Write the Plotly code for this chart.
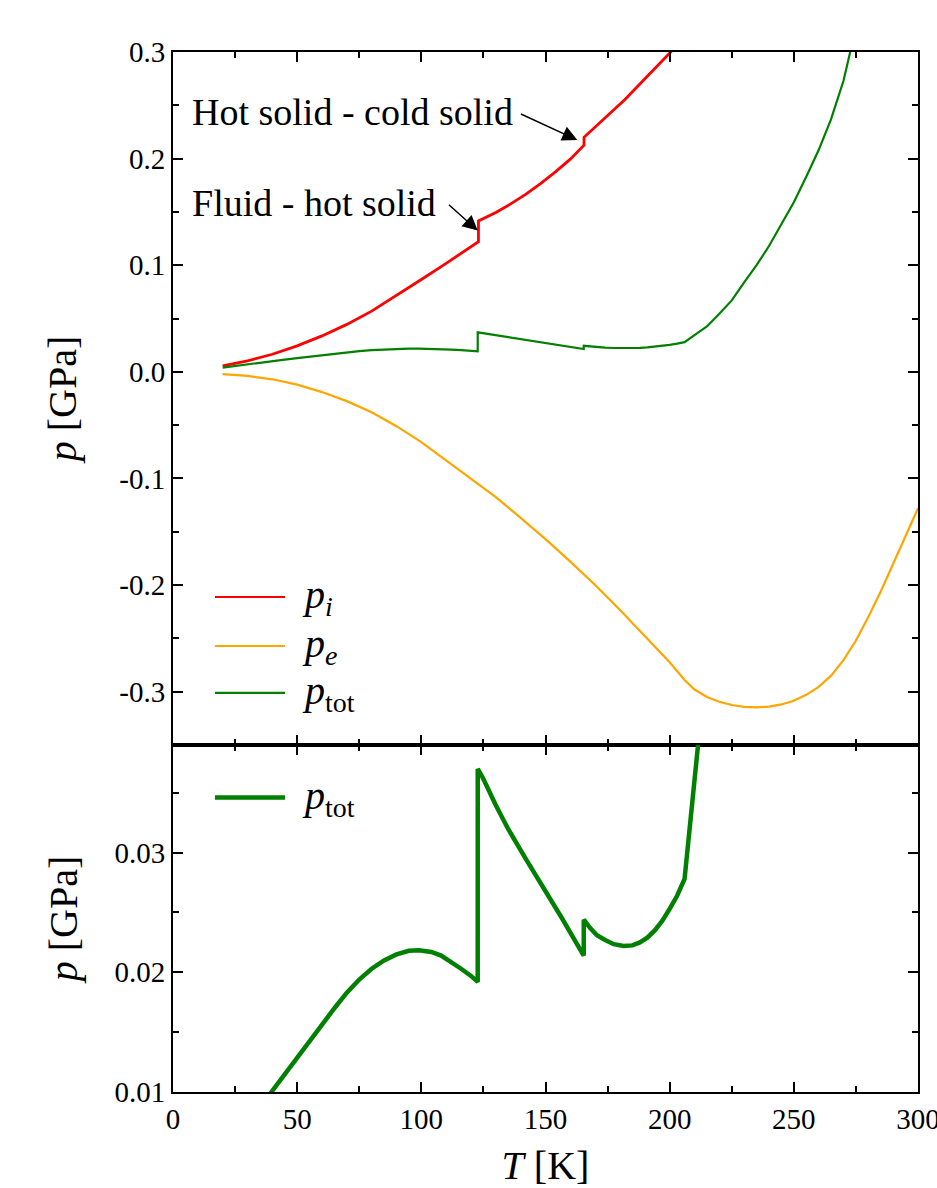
import plotly.graph_objects as go
from plotly.subplots import make_subplots

# ---------------- data ----------------
T_i = [20, 30, 40, 50, 60, 70, 80, 91.4, 100, 110, 123, 123.01, 130, 136, 142, 148, 154, 160,
       165.5, 165.51, 170, 176, 182, 188, 194, 200.2, 205]
p_i = [0.0055, 0.0103, 0.0165, 0.0243, 0.0337, 0.0445, 0.0569, 0.0735, 0.0866, 0.1018, 0.1220,
       0.1415, 0.1495, 0.1575, 0.1665, 0.1765, 0.1875, 0.1995, 0.2125, 0.2200, 0.2295, 0.2420,
       0.2555, 0.2700, 0.2845, 0.2990, 0.3110]

T_e = [20, 30, 40, 50, 60, 70, 80, 90, 100, 110, 120, 130, 140, 150, 160, 170, 180, 190, 200,
       206, 210, 215, 220, 225, 230, 235, 240, 245, 250, 255, 260, 265, 270, 275, 280, 285, 290,
       295, 300]
p_e = [-0.0022, -0.0038, -0.0070, -0.0120, -0.0190, -0.0275, -0.0380, -0.0510, -0.0660, -0.0830,
       -0.1005, -0.1175, -0.1370, -0.1570, -0.1780, -0.2000, -0.2235, -0.2475, -0.2725, -0.2890,
       -0.2980, -0.3050, -0.3095, -0.3125, -0.3142, -0.3148, -0.3140, -0.3120, -0.3085, -0.3030,
       -0.2955, -0.2850, -0.2705, -0.2520, -0.2300, -0.2060, -0.1800, -0.1540, -0.1280]

T_tot = [20, 25, 30, 35, 40, 45, 50, 55, 60, 65, 70, 75, 80, 85, 90, 95, 99, 104, 108, 112, 116,
         120, 122.7, 122.71, 124.9, 129.9, 134.9, 142, 149.2, 156.4, 165.4, 165.41, 168, 170.7,
         174, 177.5, 181.4, 185, 188, 191, 194, 197, 200, 203, 206, 210, 215, 220, 225, 230, 235,
         240, 245, 250, 255, 260, 265, 270, 272.6, 275]
p_tot = [0.0040, 0.0056, 0.0071, 0.0086, 0.0101, 0.0115, 0.0129, 0.0143, 0.0157, 0.0170, 0.0183,
         0.0194, 0.0203, 0.0210, 0.0215, 0.0218, 0.02185, 0.0217, 0.0214, 0.0209, 0.0203, 0.0197,
         0.0192, 0.0370, 0.0362, 0.0340, 0.0320, 0.0295, 0.0271, 0.0246, 0.0214, 0.0244, 0.0237,
         0.0231, 0.0227, 0.02235, 0.0222, 0.02225, 0.0225, 0.0229, 0.0235, 0.0243, 0.0253, 0.0264,
         0.0278, 0.0345, 0.0425, 0.0545, 0.0670, 0.0840, 0.1000, 0.1180, 0.1380, 0.1590, 0.1830,
         0.2080, 0.2370, 0.2730, 0.2990, 0.3250]

top_ticks = [-0.3, -0.2, -0.1, 0.0, 0.1, 0.2, 0.3]
top_ticktext = ["-0.3", "-0.2", "-0.1", "0.0", "0.1", "0.2", "0.3"]
bot_ticks = [0.01, 0.02, 0.03]
bot_ticktext = ["0.01", "0.02", "0.03"]
x_ticks = [0, 50, 100, 150, 200, 250, 300]

RED, ORANGE, GREEN = "#ff0000", "#ffa500", "#008000"
FONT = "Liberation Serif, DejaVu Serif, serif"
TICKFONT = dict(family=FONT, size=29, color="black")

fig = make_subplots(rows=2, cols=1, shared_xaxes=True, vertical_spacing=0,
                    row_heights=[0.6663, 0.3337])

fig.add_trace(go.Scatter(x=T_i, y=p_i, mode="lines", line=dict(color=RED, width=2.8),
                         name="p_i", showlegend=False), row=1, col=1)
fig.add_trace(go.Scatter(x=T_e, y=p_e, mode="lines", line=dict(color=ORANGE, width=2.2),
                         name="p_e", showlegend=False), row=1, col=1)
fig.add_trace(go.Scatter(x=T_tot, y=p_tot, mode="lines", line=dict(color=GREEN, width=2.2),
                         name="p_tot", showlegend=False), row=1, col=1)
fig.add_trace(go.Scatter(x=T_tot, y=p_tot, mode="lines", line=dict(color=GREEN, width=4.5),
                         name="p_tot", showlegend=False), row=2, col=1)

axis_common = dict(showline=True, linecolor="black", linewidth=2, mirror="allticks",
                   ticks="inside", ticklen=10, tickwidth=1.5, tickcolor="black",
                   showgrid=False, zeroline=False, automargin=False)
minor_common = dict(ticks="inside", ticklen=6, tickwidth=1.5, tickcolor="black")

fig.update_xaxes(range=[0, 300], tickvals=x_ticks, tickfont=TICKFONT,
                 minor=dict(tickvals=[25, 75, 125, 175, 225, 275], **minor_common),
                 **axis_common)
fig.update_xaxes(showticklabels=False, row=1, col=1)
fig.update_xaxes(title=dict(text="<i>T</i> [K]", font=dict(family=FONT, size=40, color="black"),
                            standoff=37),
                 ticklabeloverflow="allow", row=2, col=1)

fig.update_yaxes(range=[-0.35, 0.3], tickvals=top_ticks, ticktext=top_ticktext, tickfont=TICKFONT,
                 minor=dict(tickvals=[-0.25, -0.15, -0.05, 0.05, 0.15, 0.25], **minor_common),
                 title=dict(text="<i>p</i> [GPa]", font=dict(family=FONT, size=40, color="black"),
                            standoff=30),
                 row=1, col=1, **axis_common)
fig.update_yaxes(range=[0.01, 0.039], tickvals=bot_ticks, ticktext=bot_ticktext, tickfont=TICKFONT,
                 minor=dict(tickvals=[0.015, 0.025, 0.035], **minor_common),
                 title=dict(text="<i>p</i> [GPa]", font=dict(family=FONT, size=40, color="black"),
                            standoff=24),
                 row=2, col=1, **axis_common)

# ---------------- annotations ----------------
ann_font = dict(family=FONT, size=38, color="black")
fig.add_annotation(x=6.8, y=0.2435, xref="x", yref="y", text="Hot solid - cold solid",
                   showarrow=False, xanchor="left", yanchor="middle", font=ann_font)
fig.add_annotation(x=6.8, y=0.158, xref="x", yref="y", text="Fluid - hot solid",
                   showarrow=False, xanchor="left", yanchor="middle", font=ann_font)
fig.add_annotation(x=162.8, y=0.2175, ax=139.5, ay=0.2425, xref="x", yref="y", axref="x", ayref="y",
                   text="", showarrow=True, arrowhead=2, arrowsize=2.0, arrowwidth=1.5,
                   arrowcolor="black", standoff=0)
fig.add_annotation(x=122.7, y=0.1325, ax=110.5, ay=0.158, xref="x", yref="y", axref="x", ayref="y",
                   text="", showarrow=True, arrowhead=2, arrowsize=2.0, arrowwidth=1.5,
                   arrowcolor="black", standoff=0)

# ---------------- hand-made legends (long line samples) ----------------
leg_top = [("<i>p</i><sub><i>i</i></sub>", RED, -0.2112),
           ("<i>p</i><sub><i>e</i></sub>", ORANGE, -0.2572),
           ("<i>p</i><sub>tot</sub>", GREEN, -0.3012)]
for label, col, yv in leg_top:
    fig.add_shape(type="line", x0=16.9, x1=45.1, y0=yv, y1=yv, xref="x", yref="y",
                  line=dict(color=col, width=2.2))
    fig.add_annotation(x=51.0, y=yv, xref="x", yref="y", text=label, showarrow=False,
                       xanchor="left", yanchor="middle",
                       font=dict(family=FONT, size=40, color="black"))
fig.add_shape(type="line", x0=16.9, x1=45.1, y0=0.0346, y1=0.0346, xref="x2", yref="y2",
              line=dict(color=GREEN, width=4.5))
fig.add_annotation(x=51.0, y=0.0346, xref="x2", yref="y2", text="<i>p</i><sub>tot</sub>",
                   showarrow=False, xanchor="left", yanchor="middle",
                   font=dict(family=FONT, size=40, color="black"))

fig.update_layout(width=937, height=1188, margin=dict(l=173, r=19, t=52, b=96),
                  plot_bgcolor="white", paper_bgcolor="white", showlegend=False,
                  font=dict(family=FONT, size=29, color="black"))

fig.write_html("out.html")
